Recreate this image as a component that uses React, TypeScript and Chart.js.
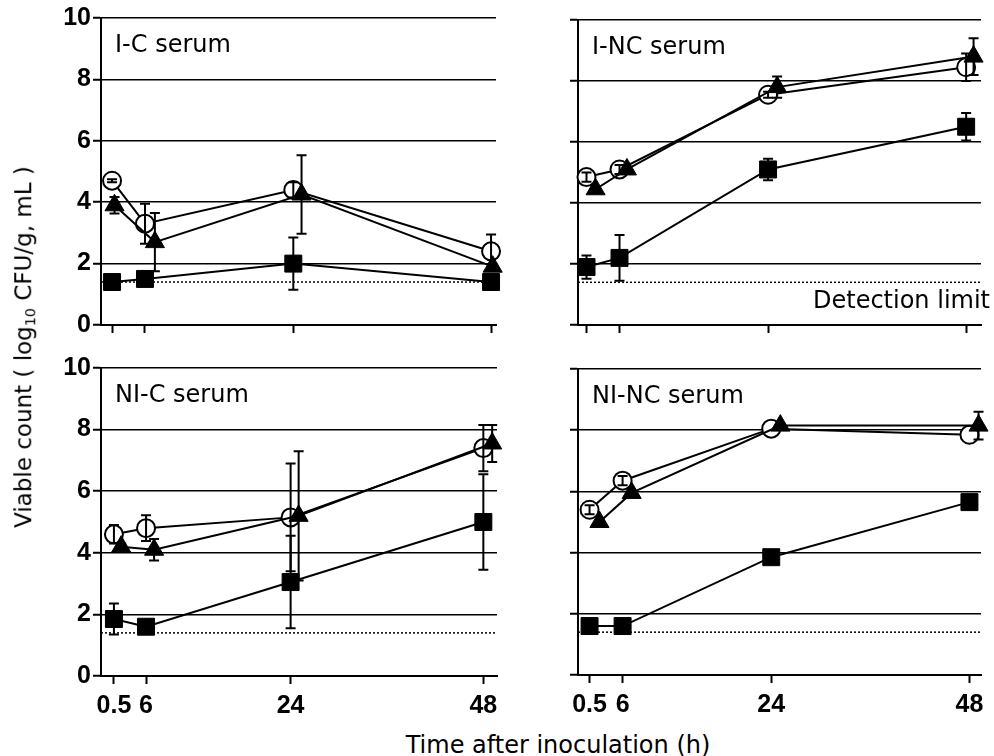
import React, { useEffect, useRef } from 'react';
import { Chart, registerables } from 'chart.js';

Chart.register(...registerables);

// ---------- data ----------
const timeLabels = ['0.5', '6', '24', '48'];
// plotting positions used on the time axis (the 0.5 h point is drawn off the y axis)
const timePositions = [2, 6, 24, 48];
const detectionLimit = 1.4;

// I-C serum
const icCircle = [4.7, 3.3, 4.4, 2.4];
const icCircleErr = [0.05, 0.65, 0.25, 0.55];
const icTriangle = [3.9, 2.7, 4.25, 1.9];
const icTriangleErr = [0.27, 0.95, 1.28, 0];
const icSquare = [1.4, 1.5, 2.0, 1.4];
const icSquareErr = [0, 0, 0.85, 0];

// I-NC serum
const incCircle = [4.85, 5.1, 7.55, 8.45];
const incCircleErr = [0.15, 0.15, 0.1, 0.45];
const incTriangle = [4.45, 5.1, 7.8, 8.8];
const incTriangleErr = [0, 0, 0.35, 0.6];
const incSquare = [1.9, 2.2, 5.1, 6.5];
const incSquareErr = [0.38, 0.75, 0.35, 0.45];

// NI-C serum
const nicCircle = [4.6, 4.8, 5.15, 7.4];
const nicCircleErr = [0.3, 0.42, 1.75, 0.75];
const nicTriangle = [4.2, 4.1, 5.2, 7.55];
const nicTriangleErr = [0.1, 0.35, 2.1, 0.6];
const nicSquare = [1.85, 1.6, 3.05, 5.0];
const nicSquareErr = [0.5, 0, 1.5, 1.55];

// NI-NC serum
const ninCircle = [5.4, 6.35, 8.05, 7.85];
const ninCircleErr = [0.15, 0.15, 0, 0];
const ninTriangle = [5.0, 5.95, 8.15, 8.15];
const ninTriangleErr = [0, 0, 0, 0.45];
const ninSquare = [1.6, 1.6, 3.85, 5.65];
const ninSquareErr = [0, 0, 0, 0];

// small horizontal shift of the triangle markers (hours) so they do not hide the circles
const icTriangleShift = [0.3, 1.2, 1.0, 0.2];
const incTriangleShift = [1.1, 0.9, 1.1, 0.9];
const nicTriangleShift = [0.9, 1.0, 1.0, 1.1];
const ninTriangleShift = [1.2, 1.1, 1.1, 1.1];

// ---------- layout / style ----------
const FONT = '"DejaVu Sans", sans-serif';
const TICK_FONT = '"Liberation Sans", Arial, sans-serif';

type Box = { left: number; top: number; width: number; height: number };
type Area = { L: number; T: number; R: number; B: number };

type PanelDef = {
  title: string;
  circle: number[];
  circleErr: number[];
  triangle: number[];
  triangleErr: number[];
  triangleShift: number[];
  square: number[];
  squareErr: number[];
  xMin: number;
  xMax: number;
  yLabels: boolean;
  xLabels: boolean;
  detectionText: boolean;
  box: Box;
  area: Area;
};

const panels: PanelDef[] = [
  {
    title: 'I-C serum',
    circle: icCircle, circleErr: icCircleErr,
    triangle: icTriangle, triangleErr: icTriangleErr, triangleShift: icTriangleShift,
    square: icSquare, squareErr: icSquareErr,
    xMin: 0.66, xMax: 48.6,
    yLabels: true, xLabels: false, detectionText: false,
    box: { left: 0, top: 0, width: 540, height: 345 },
    area: { L: 101, T: 18, R: 496, B: 325 },
  },
  {
    title: 'I-NC serum',
    circle: incCircle, circleErr: incCircleErr,
    triangle: incTriangle, triangleErr: incTriangleErr, triangleShift: incTriangleShift,
    square: incSquare, squareErr: incSquareErr,
    xMin: 0.97, xMax: 49.8,
    yLabels: false, xLabels: false, detectionText: true,
    box: { left: 540, top: 0, width: 454, height: 345 },
    area: { L: 578, T: 20, R: 985, B: 325 },
  },
  {
    title: 'NI-C serum',
    circle: nicCircle, circleErr: nicCircleErr,
    triangle: nicTriangle, triangleErr: nicTriangleErr, triangleShift: nicTriangleShift,
    square: nicSquare, squareErr: nicSquareErr,
    xMin: 0.39, xMax: 49.7,
    yLabels: true, xLabels: true, detectionText: false,
    box: { left: 0, top: 345, width: 540, height: 380 },
    area: { L: 101, T: 368, R: 497, B: 676 },
  },
  {
    title: 'NI-NC serum',
    circle: ninCircle, circleErr: ninCircleErr,
    triangle: ninTriangle, triangleErr: ninTriangleErr, triangleShift: ninTriangleShift,
    square: ninSquare, squareErr: ninSquareErr,
    xMin: 0.6, xMax: 49.4,
    yLabels: false, xLabels: true, detectionText: false,
    box: { left: 540, top: 345, width: 454, height: 380 },
    area: { L: 578, T: 369, R: 985, B: 675 },
  },
];

function Panel({ def }: { def: PanelDef }) {
  const ref = useRef<HTMLCanvasElement | null>(null);

  useEffect(() => {
    if (!ref.current) return;
    const { box, area } = def;

    const circlePts = def.circle.map((v, i) => ({ x: timePositions[i], y: v }));
    const trianglePts = def.triangle.map((v, i) => ({ x: timePositions[i] + def.triangleShift[i], y: v }));
    const squarePts = def.square.map((v, i) => ({ x: timePositions[i], y: v }));

    const errorSets = [
      { pts: trianglePts, err: def.triangleErr },
      { pts: circlePts, err: def.circleErr },
      { pts: squarePts, err: def.squareErr },
    ];

    const panelPlugin = {
      id: 'panelDecor',
      beforeDatasetsDraw(chart: any) {
        const { ctx, chartArea, scales } = chart;
        const y = scales.y.getPixelForValue(detectionLimit);
        ctx.save();
        ctx.strokeStyle = '#000';
        ctx.lineWidth = 1.5;
        ctx.setLineDash([2, 2]);
        ctx.beginPath();
        ctx.moveTo(chartArea.left, y);
        ctx.lineTo(chartArea.right, y);
        ctx.stroke();
        ctx.restore();
      },
      afterDatasetsDraw(chart: any) {
        const { ctx, chartArea, scales } = chart;
        ctx.save();
        ctx.strokeStyle = '#000';
        ctx.lineWidth = 2;
        ctx.setLineDash([]);
        errorSets.forEach(({ pts, err }) => {
          pts.forEach((p, i) => {
            const e = err[i];
            if (!e) return;
            const px = scales.x.getPixelForValue(p.x);
            const yt = scales.y.getPixelForValue(p.y + e);
            const yb = scales.y.getPixelForValue(p.y - e);
            ctx.beginPath();
            ctx.moveTo(px, yt);
            ctx.lineTo(px, yb);
            ctx.moveTo(px - 5, yt);
            ctx.lineTo(px + 5, yt);
            ctx.moveTo(px - 5, yb);
            ctx.lineTo(px + 5, yb);
            ctx.stroke();
          });
        });
        // panel title
        ctx.fillStyle = '#000';
        ctx.font = `24px ${FONT}`;
        ctx.textAlign = 'left';
        ctx.textBaseline = 'middle';
        ctx.fillText(def.title, chartArea.left + 14, chartArea.top + 28);
        if (def.detectionText) {
          ctx.textAlign = 'right';
          ctx.fillText('Detection limit', chartArea.right + 9, scales.y.getPixelForValue(detectionLimit) + 19);
        }
        ctx.restore();
      },
    };

    const lineBase = {
      showLine: true,
      borderColor: '#000',
      borderWidth: 2,
      tension: 0,
      clip: false as const,
    };

    const chart = new Chart(ref.current, {
      type: 'line',
      data: {
        datasets: [
          {
            ...lineBase,
            label: 'triangle',
            data: trianglePts,
            pointStyle: 'triangle',
            pointRadius: 11,
            pointBackgroundColor: '#000',
            pointBorderColor: '#000',
            pointBorderWidth: 1,
          },
          {
            ...lineBase,
            label: 'circle',
            data: circlePts,
            pointStyle: 'circle',
            pointRadius: 9,
            pointBackgroundColor: '#fff',
            pointBorderColor: '#000',
            pointBorderWidth: 2,
          },
          {
            ...lineBase,
            label: 'square',
            data: squarePts,
            pointStyle: 'rect',
            pointRadius: 12,
            pointBackgroundColor: '#000',
            pointBorderColor: '#000',
            pointBorderWidth: 1,
          },
        ],
      },
      options: {
        responsive: false,
        animation: false,
        events: [],
        layout: {
          padding: {
            left: 0,
            top: area.T - box.top,
            right: box.left + box.width - area.R,
            bottom: 0,
          },
        },
        plugins: {
          legend: { display: false },
          tooltip: { enabled: false },
          title: { display: false },
        },
        scales: {
          x: {
            type: 'linear',
            min: def.xMin,
            max: def.xMax,
            afterBuildTicks: (scale: any) => {
              scale.ticks = timePositions.map((v) => ({ value: v }));
            },
            afterFit: (scale: any) => {
              scale.height = box.top + box.height - area.B;
            },
            ticks: {
              display: def.xLabels,
              autoSkip: false,
              maxRotation: 0,
              padding: 7,
              color: '#000',
              font: { family: TICK_FONT, size: 25, weight: 'bold' },
              callback: (value: any) => {
                const i = timePositions.indexOf(Number(value));
                return i >= 0 ? timeLabels[i] : '';
              },
            },
            grid: {
              drawOnChartArea: false,
              drawTicks: true,
              tickLength: 8,
              tickColor: '#000',
              tickWidth: 2,
            },
            border: { display: true, color: '#000', width: 2 },
          },
          y: {
            type: 'linear',
            min: 0,
            max: 10,
            afterFit: (scale: any) => {
              scale.width = area.L - box.left;
            },
            ticks: {
              display: def.yLabels,
              stepSize: 2,
              padding: 2,
              color: '#000',
              font: { family: TICK_FONT, size: 25, weight: 'bold' },
            },
            grid: {
              color: '#000',
              lineWidth: 1.5,
              drawTicks: true,
              tickLength: 8,
              tickColor: '#000',
              tickWidth: 2,
            },
            border: { display: true, color: '#000', width: 2 },
          },
        },
      } as any,
      plugins: [panelPlugin],
    });

    return () => chart.destroy();
  }, [def]);

  return (
    <canvas
      ref={ref}
      width={def.box.width}
      height={def.box.height}
      style={{
        position: 'absolute',
        left: def.box.left,
        top: def.box.top,
        width: def.box.width,
        height: def.box.height,
      }}
    />
  );
}

export default function App() {
  return (
    <div
      style={{
        position: 'absolute',
        left: 0,
        top: 0,
        width: 994,
        height: 756,
        background: '#fff',
        overflow: 'hidden',
        fontFamily: FONT,
        color: '#000',
      }}
    >
      {panels.map((p) => (
        <Panel key={p.title} def={p} />
      ))}
      <div
        style={{
          position: 'absolute',
          left: 25,
          top: 347,
          transform: 'translate(-50%, -50%) rotate(-90deg)',
          whiteSpace: 'nowrap',
          fontSize: 23,
          lineHeight: 1,
        }}
      >
        Viable count ( log
        <span style={{ fontSize: '0.62em', verticalAlign: '-0.3em' }}>10</span> CFU/g, mL )
      </div>
      <div
        style={{
          position: 'absolute',
          left: 558,
          top: 745,
          transform: 'translate(-50%, -50%)',
          whiteSpace: 'nowrap',
          fontSize: 24,
          lineHeight: 1,
        }}
      >
        Time after inoculation (h)
      </div>
    </div>
  );
}
